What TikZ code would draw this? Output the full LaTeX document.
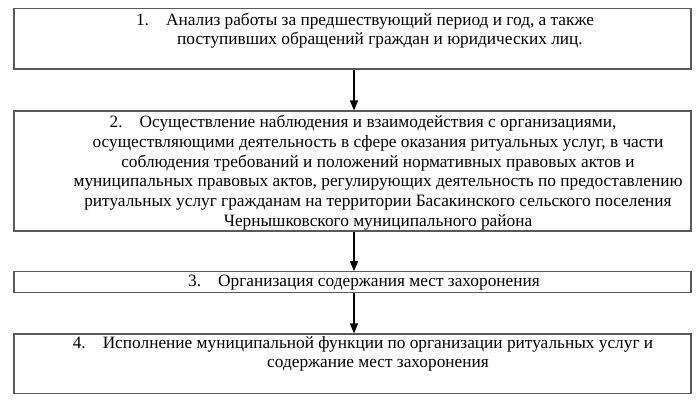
\documentclass[tikz,border=0pt]{standalone}
\usepackage{fontspec}
\setmainfont{Liberation Serif}
\usetikzlibrary{arrows.meta}

% a hanging list number: it sits left of the centred line
\newcommand{\itemno}[1]{\llap{#1.\hspace{17pt}}}

\begin{document}
\begin{tikzpicture}[
  x=1pt, y=-1pt,
  frame/.style = {draw=black!65, line width=1.1pt, minimum width=677pt,
                  inner sep=0pt},
  txt/.style   = {font=\fontsize{17.3pt}{19.5pt}\selectfont, align=center,
                  inner sep=0pt, anchor=base},   % base = baseline of the last line
  arrow/.style = {line width=1.5pt, -{Triangle[length=10pt,width=8pt]}},
]
  \useasboundingbox (0,0) rectangle (700,407);

  % frames
  \node[frame, minimum height=60.5pt]  (b1) at (352.5,38.75) {};
  \node[frame, minimum height=120pt]   (b2) at (352.5,171)   {};
  \node[frame, minimum height=20.5pt]  (b3) at (352.5,282)   {};
  \node[frame, minimum height=59.5pt]  (b4) at (352.5,363.75) {};

  % texts, lines centred a bit right of the frame centre
  \node[txt] (t1) at (380,44.5) {\itemno{1}Анализ работы за предшествующий период и год, а также\\
    поступивших обращений граждан и юридических лиц.};
  \node[txt, font=\fontsize{17.3pt}{19.9pt}\selectfont] (t2) at (378,226.7)
    {\itemno{2}Осуществление наблюдения и взаимодействия с организациями,\\
    осуществляющими деятельность в сфере оказания ритуальных услуг, в части\\
    соблюдения требований и положений нормативных правовых актов и\\
    муниципальных правовых актов, регулирующих деятельность по предоставлению\\
    ритуальных услуг гражданам на территории Басакинского сельского поселения\\
    Чернышковского муниципального района};
  \node[txt] (t3) at (379,286.7) {\itemno{3}Организация содержания мест захоронения};
  \node[txt] (t4) at (378,367.5) {\itemno{4}Исполнение муниципальной функции по организации ритуальных услуг и\\
    содержание мест захоронения};

  % steps
  \draw[arrow] ([xshift=1.5pt]b1.south) -- ([xshift=1.5pt]b2.north);
  \draw[arrow] ([xshift=1.5pt]b2.south) -- ([xshift=1.5pt]b3.north);
  \draw[arrow] ([xshift=1.5pt]b3.south) -- ([xshift=1.5pt]b4.north);
\end{tikzpicture}
\end{document}
